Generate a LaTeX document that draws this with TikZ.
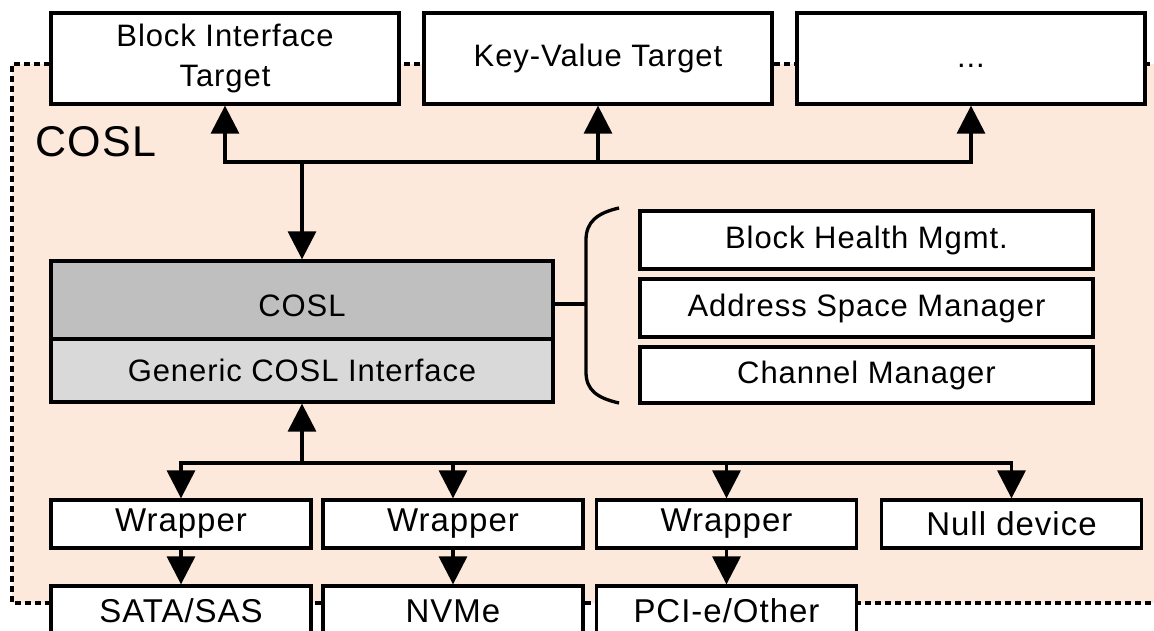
\documentclass[tikz,border=0pt]{standalone}
\usepackage{fontspec}
\setmainfont{Liberation Sans}[LetterSpace=3]
\usetikzlibrary{arrows.meta}
\definecolor{peach}{RGB}{252,233,219}
\definecolor{darkgr}{RGB}{191,191,191}
\definecolor{lightgr}{RGB}{217,217,217}
\tikzset{
  box/.style={draw=black, line width=3.3pt, fill=white, inner sep=0pt, align=center,
    font=\fontsize{31}{40}\selectfont},
  bigbox/.style={box, font=\fontsize{33}{40}\selectfont},
  conn/.style={line width=3.3pt},
  arr/.style={line width=3.3pt, -{Triangle[length=28pt,width=28pt]}},
  border/.style={line width=3.5pt, dash pattern=on 6pt off 4pt}
}
\begin{document}
\begin{tikzpicture}[x=1pt,y=-1pt]
\useasboundingbox (0,0) rectangle (1154,631);
\clip (0,0) rectangle (1154,631);
% COSL region
\fill[peach] (12,64) rectangle (1170,603);
\draw[border] (1170,64) -- (12,64) -- (12,603) -- (1170,603);
\node[anchor=west, font=\fontsize{43}{50}\selectfont] (lbl) at (32,142) {COSL};
% top targets
\node[box, minimum width=348pt, minimum height=91pt] (blk) at (225,58.5) {Block Interface\\Target};
\node[box, minimum width=348pt, minimum height=91pt] (kv) at (598,58.5) {Key-Value Target};
\node[box, minimum width=348pt, minimum height=91pt] (etc) at (971,58.5) {\raisebox{-9pt}[0pt][0pt]{...}};
% COSL core
\node[box, fill=darkgr, minimum width=502pt, minimum height=78pt] (core) at (302,300) {\raisebox{-17pt}[0pt][0pt]{COSL}};
\node[box, fill=lightgr, minimum width=502pt, minimum height=63pt] (gci) at (302,370.5) {Generic COSL Interface};
% right modules
\node[box, minimum width=453pt, minimum height=58pt] (bhm) at (866.5,240) {Block Health Mgmt.};
\node[box, minimum width=453pt, minimum height=58pt] (asm) at (866.5,308) {Address Space Manager};
\node[box, minimum width=453pt, minimum height=56pt] (chm) at (866.5,375) {Channel Manager};
% bracket
\coordinate (br) at (586,304);
\draw[conn] (core.east |- br) -- (br);
\draw[conn] (619,208) .. controls (597,213) and (586,222) .. (586,240) -- (586,372) .. controls (586,390) and (597,398) .. (619,403);
% bottom wrappers
\node[bigbox, minimum width=260pt, minimum height=48pt] (w1) at (181,524) {Wrapper};
\node[bigbox, minimum width=260pt, minimum height=48pt] (w2) at (453,524) {Wrapper};
\node[bigbox, minimum width=260pt, minimum height=48pt] (w3) at (726.5,524) {Wrapper};
\node[bigbox, minimum width=260pt, minimum height=48pt] (nul) at (1011.5,524) {Null device};
\node[bigbox, minimum width=260pt, minimum height=50pt] (sata) at (181,611) {SATA/SAS};
\node[bigbox, minimum width=260pt, minimum height=50pt] (nvme) at (453,611) {NVMe};
\node[bigbox, minimum width=260pt, minimum height=50pt] (pci) at (726.5,611) {PCI-e/Other};
% top connectors
\coordinate (jtop) at (302,162);
\draw[arr] (jtop) -- (core.north);
\draw[arr] (jtop) -| (blk.south);
\draw[arr] (jtop) -| (kv.south);
\draw[arr] (jtop) -| (etc.south);
% bottom connectors
\coordinate (jbot) at (302,463);
\draw[arr] (jbot) -- (gci.south);
\draw[arr] (jbot) -| (w1.north);
\draw[arr] (jbot) -| (w2.north);
\draw[arr] (jbot) -| (w3.north);
\draw[arr] (jbot) -| (nul.north);
\draw[arr] (w1.south) -- (sata.north);
\draw[arr] (w2.south) -- (nvme.north);
\draw[arr] (w3.south) -- (pci.north);
\end{tikzpicture}
\end{document}
